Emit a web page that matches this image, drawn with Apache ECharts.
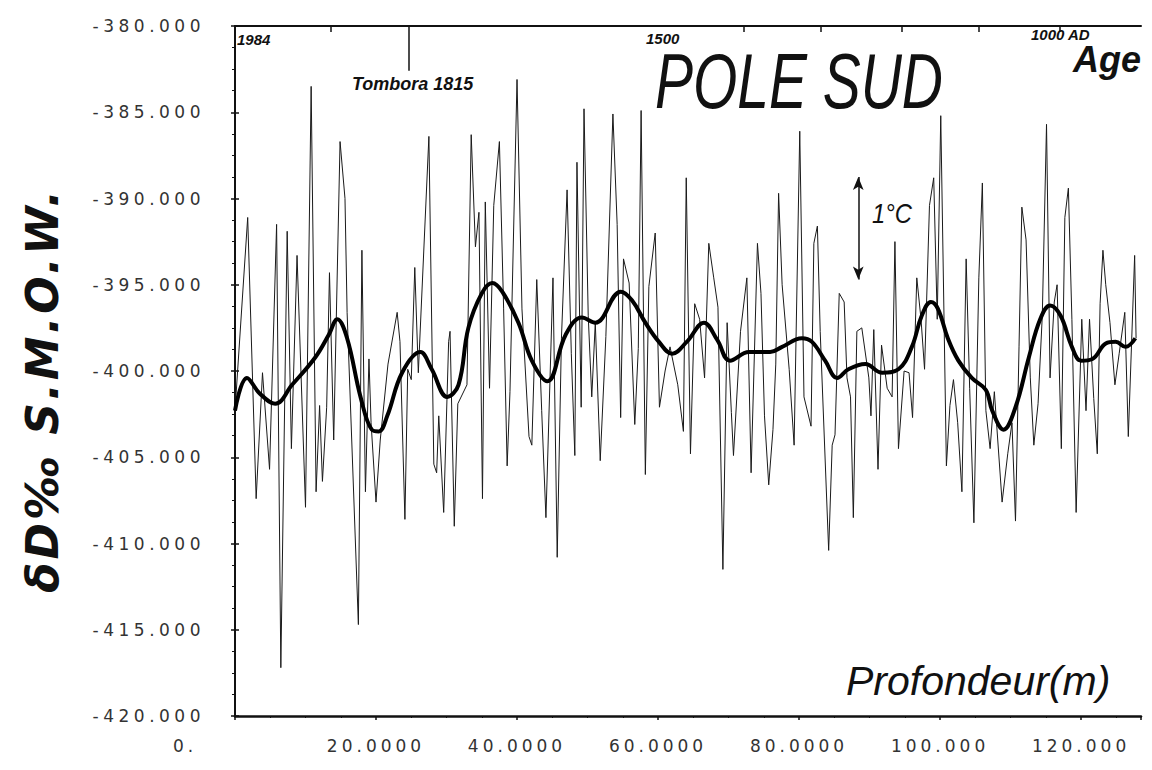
<!DOCTYPE html>
<html><head><meta charset="utf-8">
<script src="https://cdn.jsdelivr.net/npm/echarts@6/dist/echarts.min.js"></script>
<style>html,body{margin:0;padding:0;background:#fff}#c{width:1152px;height:770px}</style>
</head><body><div id="c"></div>
<script>
// ---- data (depth in m, deltaD in per mil) ----
const rawDepth = [
0,1.8,3.0,3.9,4.9,5.9,6.5,7.4,8.0,8.8,
10.0,10.8,11.5,12.0,12.4,13.0,13.4,14.0,14.9,15.6,
15.9,17.5,18.0,18.5,19.0,19.3,20.0,20.6,21.7,23.0,
23.4,24.1,24.5,25.0,25.5,26.0,27.5,28.2,28.6,28.9,
29.6,30.3,30.5,31.1,31.6,32.9,33.5,34.1,34.6,35.1,
35.5,36.1,36.7,37.5,38.1,38.6,39.0,40.0,40.7,41.7,
42.1,42.8,43.5,44.1,45.1,45.7,46.3,47.1,47.7,48.2,
48.5,49.1,49.5,50.1,50.6,51.1,51.8,52.6,53.6,54.2,
54.7,55.1,55.9,56.7,57.2,57.6,58.2,58.7,59.6,60.2,
61.0,61.7,62.8,63.6,64.0,64.6,65.2,65.9,66.6,67.2,
67.9,68.5,69.2,69.8,70.4,70.7,71.7,72.6,73.2,74.1,
74.6,75.1,75.7,76.3,76.7,77.1,77.6,78.6,79.3,80.1,
80.7,81.7,82.1,82.6,83.0,84.2,84.7,85.1,85.7,86.4,
86.8,87.3,87.7,88.2,88.9,89.9,90.2,90.6,91.2,91.7,
92.5,93.2,93.6,94.1,94.9,95.6,96.1,96.7,97.3,97.8,
98.5,99.1,99.6,100.1,100.9,101.4,101.9,102.5,103.1,103.7,
104.2,104.8,105.5,106.0,106.5,107.1,107.7,108.8,109.6,110.2,
110.7,111.2,111.6,112.2,112.8,113.3,113.9,114.5,115.1,115.6,
116.2,116.6,117.2,117.7,118.2,118.7,119.3,120.1,120.7,121.2,
121.8,122.3,122.7,123.1,123.5,124.1,124.8,125.4,126.2,126.7,
127.6,127.8];
const rawValue = [
-402.3,-391.1,-407.4,-400.1,-405.7,-391.5,-417.2,-391.9,-404.5,-393.3,
-407.9,-383.5,-407.0,-402.0,-406.4,-402.1,-394.3,-404.0,-386.7,-390.0,
-396.6,-414.7,-393.0,-407.0,-399.3,-403.0,-407.6,-404.0,-399.6,-396.6,
-398.3,-408.6,-399.9,-400.5,-394.0,-400.1,-386.4,-405.4,-405.9,-402.6,
-408.2,-398.3,-397.7,-409.0,-401.9,-400.8,-386.3,-392.8,-390.8,-407.4,
-390.2,-401.0,-390.4,-386.7,-396.4,-405.5,-401.2,-383.1,-396.4,-403.8,
-404.3,-394.7,-402.3,-408.5,-394.6,-410.8,-398.1,-389.5,-399.0,-404.9,
-387.9,-402.1,-384.8,-396.8,-401.5,-397.2,-405.2,-398.0,-385.1,-391.5,
-402.7,-393.5,-394.9,-403.1,-398.7,-384.9,-406.0,-395.1,-392.0,-402.1,
-400.0,-398.6,-400.8,-403.5,-388.8,-404.8,-396.1,-397.0,-400.4,-392.6,
-394.6,-396.3,-411.5,-397.2,-402.4,-404.9,-397.7,-394.6,-405.9,-392.6,
-395.5,-402.6,-406.6,-403.4,-399.6,-389.7,-395.0,-399.9,-404.3,-386.1,
-401.5,-403.2,-392.6,-391.6,-397.7,-410.4,-404.3,-403.7,-395.5,-396.0,
-400.4,-401.5,-408.5,-397.7,-397.5,-400.4,-402.6,-397.6,-405.7,-398.5,
-401.0,-401.5,-392.5,-404.5,-400.0,-400.1,-402.7,-394.6,-397.0,-399.9,
-390.4,-388.8,-397.0,-385.2,-405.5,-402.0,-400.5,-403.0,-407.0,-393.5,
-401.0,-408.8,-394.6,-389.1,-402.3,-404.5,-401.2,-407.6,-404.8,-403.0,
-408.7,-398.6,-390.5,-392.4,-400.4,-404.3,-401.9,-396.8,-385.7,-400.4,
-396.0,-395.0,-404.5,-391.1,-389.4,-397.0,-408.2,-397.0,-402.3,-397.0,
-401.6,-404.8,-396.1,-393.0,-395.0,-397.2,-400.8,-399.0,-396.6,-403.8,
-393.3,-398.1];
const smoothDepth = [0,1.7,3.5,5.7,8.1,11.4,13.3,14.5,15.9,17.8,19.4,20.4,21.6,23.7,26.3,27.9,30.1,31.7,33.1,35.0,
36.5,37.9,40.2,42.1,44.3,46.9,49.2,51.1,54.7,56.3,58.2,60.1,62.0,64.1,66.5,68.4,70.2,72.9,75.9,77.6,
80.4,81.8,83.7,85.4,87.0,89.4,91.8,94.1,96.0,97.4,98.7,99.7,101.1,102.6,104.5,106.5,107.4,109.0,110.7,112.6,
114.2,115.6,117.1,118.7,120.0,121.6,123.5,124.9,126.3,127.7];
const smoothValue = [-402.3,-400.4,-401.3,-401.9,-400.8,-399.2,-397.9,-397.0,-398.1,-401.5,-403.4,-403.5,-402.6,-400.1,-398.9,-399.9,-401.5,-400.8,-397.5,-395.5,
-394.9,-395.4,-397.2,-399.4,-400.6,-397.9,-396.9,-397.2,-395.4,-395.9,-397.2,-398.3,-399.0,-398.3,-397.2,-398.2,-399.4,-398.9,-398.9,-398.6,
-398.1,-398.3,-399.4,-400.4,-399.9,-399.6,-400.1,-399.9,-398.6,-396.8,-396.0,-396.4,-398.1,-399.4,-400.4,-401.1,-402.3,-403.4,-402.1,-399.2,
-397.0,-396.2,-396.8,-398.6,-399.4,-399.3,-398.4,-398.3,-398.6,-398.1];

const xTickValues = [0, 20, 40, 60, 80, 100, 120];
const xTickLabels = ['0.', '20.0000', '40.0000', '60.0000', '80.0000', '100.000', '120.000'];
const yTickValues = [-420, -415, -410, -405, -400, -395, -390, -385, -380];
const yTickLabels = ['-420.000', '-415.000', '-410.000', '-405.000', '-400.000', '-395.000', '-390.000', '-385.000', '-380.000'];
const ageTickDepths = [13.6, 72.1, 83.1, 94.6, 105.5, 117.0];
const tomboraDepth = 24.7, tomboraTickEnd = -382.6;
const arrowDepth = 88.4, arrowTop = -388.75, arrowBottom = -394.7;
const yTitle = 'δD‰ S.M.O.W.';

const chart = echarts.init(document.getElementById('c'), null, {renderer: 'svg'});
const labelFont = 'DejaVu Sans';
const wide = '"Liberation Sans", sans-serif';
const ink = '#111';

chart.setOption({
  animation: false,
  backgroundColor: '#fff',
  grid: {left: 235, right: 11, top: 26, bottom: 54},
  xAxis: [{
    type: 'value', min: 0, max: 128.5, interval: 20, position: 'bottom',
    axisLine: {show: true, lineStyle: {color: ink, width: 2.5}},
    axisTick: {show: true, length: 4, lineStyle: {color: ink, width: 1.5}},
    minorTick: {show: true, splitNumber: 4, length: 2, lineStyle: {color: ink}},
    splitLine: {show: false},
    axisLabel: {
      margin: 21, fontSize: 17, color: '#333', fontFamily: labelFont,
      formatter: v => { const i = xTickValues.indexOf(v); if (i < 0) return ''; return i === 0 ? '{z|' + xTickLabels[0] + '}' : xTickLabels[i]; },
      rich: {z: {fontSize: 17, color: '#333', fontFamily: labelFont, padding: [0, 100, 0, 0]}}
    }
  }, {
    type: 'value', min: 0, max: 128.5, position: 'top',
    axisLine: {show: true, lineStyle: {color: ink, width: 2}},
    axisTick: {show: true, inside: true, length: 6, customValues: ageTickDepths, lineStyle: {color: ink, width: 1.5}},
    axisLabel: {show: false}, splitLine: {show: false}
  }],
  yAxis: [{
    type: 'value', min: -420, max: -380, interval: 5,
    axisLine: {show: true, lineStyle: {color: ink, width: 2}},
    axisTick: {show: true, length: 4, lineStyle: {color: ink, width: 1.5}},
    minorTick: {show: true, splitNumber: 4, length: 3, lineStyle: {color: ink}},
    splitLine: {show: false},
    axisLabel: {
      margin: 30, fontSize: 17, color: '#333', fontFamily: labelFont,
      formatter: v => { const i = yTickValues.indexOf(v); return i < 0 ? '' : yTickLabels[i]; }
    }
  }, {
    type: 'value', min: -420, max: -380, interval: 5, position: 'left',
    axisLine: {show: false},
    axisTick: {show: true, inside: true, length: 4, lineStyle: {color: ink, width: 1.5}},
    axisLabel: {show: false}, splitLine: {show: false}
  }],
  graphic: [
    {type: 'text', x: 42, y: 390, rotation: Math.PI / 2, style: {text: yTitle, font: 'italic bold 44px "DejaVu Sans", sans-serif', fill: ink, align: 'center', verticalAlign: 'middle'}},
    {type: 'text', x: 237, y: 39, style: {text: '1984', font: 'italic bold 15px ' + wide, fill: ink, align: 'left', verticalAlign: 'middle'}},
    {type: 'text', x: 646, y: 38, style: {text: '1500', font: 'italic bold 15px ' + wide, fill: ink, align: 'left', verticalAlign: 'middle'}},
    {type: 'text', x: 1031, y: 34, style: {text: '1000 AD', font: 'italic bold 15px ' + wide, fill: ink, align: 'left', verticalAlign: 'middle'}},
    {type: 'text', x: 1073, y: 59, style: {text: 'Age', font: 'italic bold 36px ' + wide, fill: ink, align: 'left', verticalAlign: 'middle'}},
    {type: 'text', x: 352, y: 84, style: {text: 'Tombora 1815', font: 'italic bold 18px ' + wide, fill: ink, align: 'left', verticalAlign: 'middle'}},
    {type: 'text', x: 655, y: 81, scaleX: 0.73, style: {text: 'POLE SUD', font: 'italic 78px ' + wide, fill: ink, align: 'left', verticalAlign: 'middle'}},
    {type: 'text', x: 846, y: 681, style: {text: 'Profondeur(m)', font: 'italic 41px ' + wide, fill: ink, align: 'left', verticalAlign: 'middle'}},
    {type: 'text', x: 872, y: 213, scaleX: 0.85, style: {text: '1°C', font: 'italic 28px ' + wide, fill: ink, align: 'left', verticalAlign: 'middle'}}
  ],
  series: [{
    type: 'line', name: 'δD', xAxisIndex: 0, yAxisIndex: 0,
    data: rawDepth.map((d, i) => [d, rawValue[i]]),
    symbol: 'none', lineStyle: {color: '#1a1a1a', width: 1}, z: 2,
    markLine: {
      silent: true, animation: false, symbol: ['arrow', 'arrow'], symbolSize: [8, 13],
      label: {show: false}, lineStyle: {color: ink, width: 1.5, type: 'solid'},
      data: [
        [{coord: [arrowDepth, arrowTop]}, {coord: [arrowDepth, arrowBottom]}],
        [{coord: [tomboraDepth, -380], symbol: 'none'}, {coord: [tomboraDepth, tomboraTickEnd], symbol: 'none'}]
      ]
    }
  }, {
    type: 'line', name: 'lissé', xAxisIndex: 0, yAxisIndex: 0,
    data: smoothDepth.map((d, i) => [d, smoothValue[i]]),
    smooth: 0.4, symbol: 'none', lineStyle: {color: '#000', width: 4}, z: 3
  }]
});

// widen the plotter-style lettering of the tick labels and axis title
function spaceLabels() {
  const svg = document.querySelector('#c svg');
  if (!svg) return;
  svg.querySelectorAll('text').forEach(t => {
    const s = t.textContent;
    if (yTickLabels.indexOf(s) >= 0) t.setAttribute('letter-spacing', '4.5');
    else if (xTickLabels.indexOf(s) >= 0) t.setAttribute('letter-spacing', '4');
    else if (s === yTitle) t.setAttribute('letter-spacing', '3');
  });
}
spaceLabels();
chart.on('finished', spaceLabels);
chart.on('rendered', spaceLabels);
</script></body></html>
